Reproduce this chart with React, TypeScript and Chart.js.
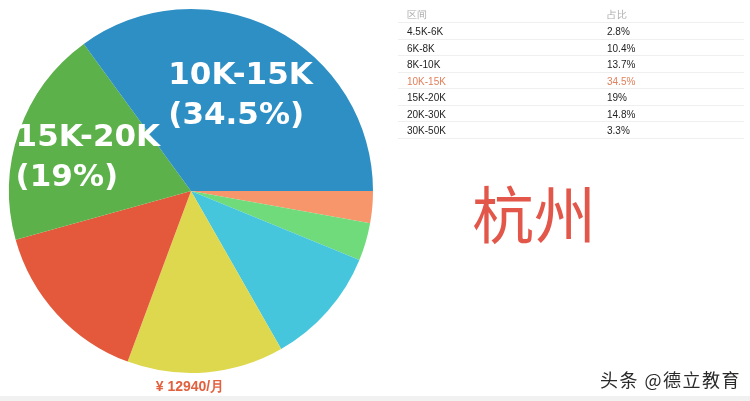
import React, { useEffect, useRef } from "react";
import { Chart, registerables } from "chart.js";

Chart.register(...registerables);

const categories = ["4.5K-6K", "6K-8K", "8K-10K", "10K-15K", "15K-20K", "20K-30K", "30K-50K"];
const shares = [2.8, 10.4, 13.7, 34.5, 19, 14.8, 3.3];
const shareLabels = ["2.8%", "10.4%", "13.7%", "34.5%", "19%", "14.8%", "3.3%"];
const pieOrder = ["4.5K-6K", "30K-50K", "6K-8K", "8K-10K", "20K-30K", "15K-20K", "10K-15K"];
const pieColors = ["#F7956B", "#70DB7A", "#46C6DD", "#DDD84E", "#E4593B", "#5CB14A", "#2E8FC4"];
const labelledSlices = ["10K-15K", "15K-20K"];
const highlightCategory = "10K-15K";
const headerLabels = ["区间", "占比"];
const cityName = "杭州";
const averageSalary = "¥ 12940/月";
const watermark = "头条 @德立教育";

const sliceLabelPlugin = {
  id: "sliceLabels",
  afterDatasetsDraw(chart: any) {
    const meta = chart.getDatasetMeta(0);
    const ctx = chart.ctx;
    ctx.save();
    ctx.font = "bold 31px 'DejaVu Sans'";
    ctx.fillStyle = "#ffffff";
    ctx.textAlign = "left";
    ctx.textBaseline = "alphabetic";
    meta.data.forEach((arc: any, i: number) => {
      const name = chart.data.labels[i];
      if (!labelledSlices.includes(name)) return;
      const p = arc.getProps(["x", "y", "startAngle", "endAngle", "outerRadius"], true);
      const mid = (p.startAngle + p.endAngle) / 2;
      const r = p.outerRadius * 0.6;
      const cx = p.x + Math.cos(mid) * r;
      const cy = p.y + Math.sin(mid) * r;
      const value = chart.data.datasets[0].data[i];
      const lines = [name, "(" + value + "%)"];
      const w = Math.max(...lines.map((l) => ctx.measureText(l).width));
      const left = cx - w / 2;
      ctx.fillText(lines[0], left, cy - 9.5);
      ctx.fillText(lines[1], left, cy + 30.5);
    });
    ctx.restore();
  },
};

export default function App() {
  const canvasRef = useRef<HTMLCanvasElement | null>(null);

  useEffect(() => {
    if (!canvasRef.current) return;
    const chart = new Chart(canvasRef.current, {
      type: "pie",
      data: {
        labels: pieOrder,
        datasets: [
          {
            data: pieOrder.map((c) => shares[categories.indexOf(c)]),
            backgroundColor: pieColors,
            borderWidth: 0,
          },
        ],
      },
      options: {
        responsive: false,
        animation: false,
        devicePixelRatio: 1,
        rotation: 90,
        layout: { padding: { left: 9, top: 9, right: 377, bottom: 28 } },
        plugins: { legend: { display: false }, tooltip: { enabled: false } },
      } as any,
      plugins: [sliceLabelPlugin],
    });
    return () => chart.destroy();
  }, []);

  const rowH = 16.5;
  const tableFont = "'Liberation Sans', Arial, sans-serif";

  return (
    <div
      style={{
        position: "absolute",
        left: 0,
        top: 0,
        width: 750,
        height: 401,
        background: "#ffffff",
        overflow: "hidden",
        fontFamily: tableFont,
      }}
    >
      <canvas ref={canvasRef} width={750} height={401} style={{ position: "absolute", left: 0, top: 0 }} />

      {/* table */}
      <div style={{ position: "absolute", left: 398, top: 6.5, width: 346 }}>
        {[{ a: headerLabels[0], b: headerLabels[1], header: true, hi: false }]
          .concat(
            categories.map((c, i) => ({ a: c, b: shareLabels[i], header: false, hi: c === highlightCategory }))
          )
          .map((row, i) => (
            <div
              key={i}
              style={{
                position: "relative",
                height: rowH,
                boxSizing: "border-box",
                borderBottom: "1px solid #efefef",
                fontSize: 10,
                color: row.header ? "#ababab" : row.hi ? "#E2805C" : "#1e1e1e",
              }}
            >
              <span style={{ position: "absolute", left: 9, top: row.header ? 2 : 3, lineHeight: "12px" }}>{row.a}</span>
              <span style={{ position: "absolute", left: 209, top: row.header ? 2 : 3, lineHeight: "12px" }}>{row.b}</span>
            </div>
          ))}
      </div>

      <div
        style={{
          position: "absolute",
          left: 472,
          top: 172,
          fontFamily: "'Noto Sans CJK SC', sans-serif",
          fontSize: 62,
          lineHeight: "80px",
          color: "#E2574A",
          whiteSpace: "nowrap",
        }}
      >
        {cityName}
      </div>

      <div
        style={{
          position: "absolute",
          left: 100,
          width: 180,
          top: 377,
          textAlign: "center",
          fontFamily: tableFont,
          fontWeight: "bold",
          fontSize: 14,
          lineHeight: "18px",
          color: "#E2603E",
          whiteSpace: "nowrap",
        }}
      >
        {averageSalary}
      </div>

      <div
        style={{
          position: "absolute",
          left: 600,
          top: 366,
          fontFamily: "'Noto Sans CJK SC', sans-serif",
          fontSize: 18,
          lineHeight: "26px",
          letterSpacing: 1.5,
          color: "#2a2a2a",
          whiteSpace: "nowrap",
          textShadow: "0 0 2px #fff",
        }}
      >
        {watermark}
      </div>

      <div style={{ position: "absolute", left: 0, top: 396, width: 750, height: 5, background: "#f1f1f1" }} />
    </div>
  );
}
